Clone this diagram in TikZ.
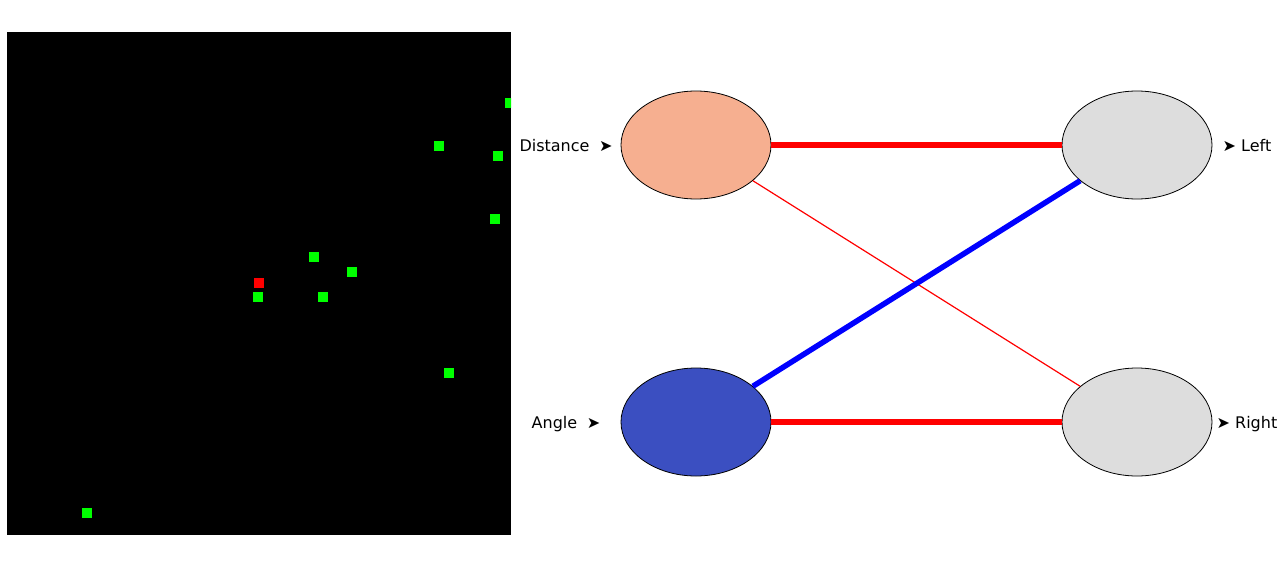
\documentclass[tikz,border=0pt]{standalone}
\usepackage{fontspec}
\setmainfont{DejaVu Sans}
\usetikzlibrary{shapes.geometric}
\definecolor{salmon}{HTML}{F6AF90}
\definecolor{nblue}{HTML}{3B4FC1}
\definecolor{ngrey}{HTML}{DDDDDD}
\definecolor{pgreen}{HTML}{00FF00}
\definecolor{pred}{HTML}{FF0000}
\tikzset{
  neuron/.style={ellipse, draw=black, line width=0.8pt, minimum width=150pt, minimum height=108pt, inner sep=0pt},
  lbl/.style={font=\fontsize{16}{19}\selectfont, inner sep=0pt, anchor=center},
  strong/.style={line width=5.5pt},
  weak/.style={line width=1.2pt},
  gpix/.style={fill=pgreen},
  rpix/.style={fill=pred}
}
\begin{document}
\begin{tikzpicture}[x=1pt,y=-1pt]
\useasboundingbox (0,0) rectangle (1288,568);
% sensor image
\fill[black] (7,32) rectangle (511,535);
\begin{scope}
\clip (7,32) rectangle (511,535);
\foreach \cx/\cy in {510/103, 439/146, 498/156, 495/219, 314/257, 352/272, 258/297, 323/297, 449/373, 87/513}{
  \fill[gpix] (\cx-5,\cy-5) rectangle (\cx+5,\cy+5);
}
\fill[rpix] (254,278) rectangle (264,288);
\end{scope}
% network
\node[neuron, fill=salmon] (dist) at (696,145) {};
\node[neuron, fill=nblue] (ang) at (696,422) {};
\node[neuron, fill=ngrey] (left) at (1137,145) {};
\node[neuron, fill=ngrey] (right) at (1137,422) {};
\draw[pred, strong] (dist) -- (left);
\draw[pred, weak] (dist) -- (right);
\draw[blue, strong] (ang) -- (left);
\draw[pred, strong] (ang) -- (right);
\node[lbl] (ldist) at (566,146) {Distance\hspace{0.6em}➤};
\node[lbl] (lang) at (566,424) {Angle\hspace{0.6em}➤};
\node[lbl] (lleft) at (1247,146) {➤ Left};
\node[lbl] (lright) at (1247,424) {➤ Right};
\end{tikzpicture}
\end{document}
